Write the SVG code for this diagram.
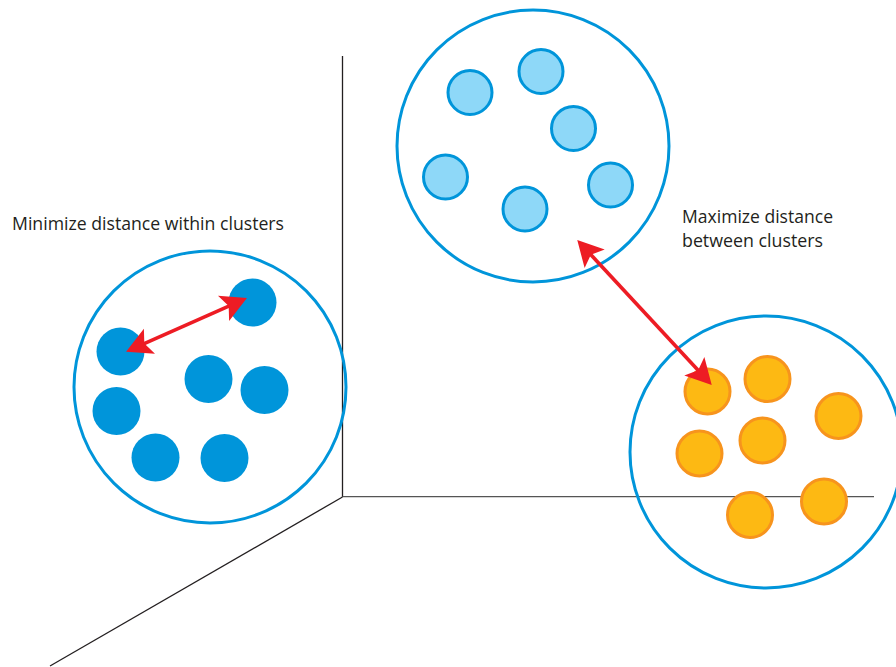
<svg xmlns="http://www.w3.org/2000/svg" width="896" height="667" viewBox="0 0 896 667">
<style>
.axis{stroke:#231F20;stroke-width:1.3;fill:none}
.axis-h{stroke:#555;stroke-width:1.3;fill:none}
.cluster{fill:none;stroke:#0095DA;stroke-width:3}
.dark{fill:#0095DA}
.light{fill:#8ED8F8;stroke:#0095DA;stroke-width:3}
.orange{fill:#FDB913;stroke:#F7941D;stroke-width:3}
.arrow{stroke:#ED1C24;stroke-width:3.6;fill:none;marker-start:url(#head);marker-end:url(#head)}
.label{font-family:"Open Sans","Liberation Sans",sans-serif;font-size:18.5px;fill:#231F20}
</style>
<defs>
<marker id="head" viewBox="-10 -15 30 30" markerWidth="30" markerHeight="30" refX="0" refY="0" markerUnits="userSpaceOnUse" orient="auto-start-reverse">
<path d="M18,0 L-7.6,-13.7 L-2,0 L-7.6,13.7 Z" fill="#ED1C24"/>
</marker>
</defs>
<rect width="896" height="667" fill="#fff"/>
<g id="axes">
<line class="axis" x1="342.5" y1="56" x2="342.5" y2="497"/>
<line class="axis-h" x1="342.5" y1="496.7" x2="874" y2="496.7"/>
<line class="axis" x1="342.5" y1="497" x2="50" y2="666"/>
</g>
<g id="cluster-left">
<circle class="cluster" cx="210" cy="387" r="136"/>
<circle class="dark" cx="252.5" cy="302.5" r="24"/>
<circle class="dark" cx="120.5" cy="351.5" r="24"/>
<circle class="dark" cx="208.5" cy="379" r="24"/>
<circle class="dark" cx="264.5" cy="390" r="24"/>
<circle class="dark" cx="116.5" cy="411" r="24"/>
<circle class="dark" cx="155.5" cy="457.5" r="24"/>
<circle class="dark" cx="224.5" cy="458" r="24"/>
</g>
<g id="cluster-top">
<circle class="cluster" cx="533" cy="146" r="136"/>
<circle class="light" cx="470" cy="92.5" r="22"/>
<circle class="light" cx="541" cy="71.5" r="22"/>
<circle class="light" cx="573.5" cy="128.5" r="22"/>
<circle class="light" cx="445.5" cy="177" r="22"/>
<circle class="light" cx="525" cy="209" r="22"/>
<circle class="light" cx="610.5" cy="185" r="22"/>
</g>
<g id="cluster-right">
<circle class="cluster" cx="766" cy="452" r="136"/>
<circle class="orange" cx="707.5" cy="391.5" r="22.5"/>
<circle class="orange" cx="767.5" cy="379" r="22.5"/>
<circle class="orange" cx="838.5" cy="416" r="22.5"/>
<circle class="orange" cx="699.5" cy="453.5" r="22.5"/>
<circle class="orange" cx="762.5" cy="440.5" r="22.5"/>
<circle class="orange" cx="750" cy="515" r="22.5"/>
<circle class="orange" cx="824" cy="501.5" r="22.5"/>
</g>
<g id="connectors">
<line class="arrow" x1="142.5" y1="344.4" x2="230.5" y2="305.3"/>
<line class="arrow" x1="589.5" y1="253.2" x2="699.5" y2="371.8"/>
</g>
<g id="label-within">
<text class="label" x="12" y="229.5" textLength="272" lengthAdjust="spacingAndGlyphs">Minimize distance within clusters</text>
</g>
<g id="label-between">
<text class="label" x="682" y="222.5" textLength="151" lengthAdjust="spacingAndGlyphs">Maximize distance</text>
<text class="label" x="682" y="247" textLength="141" lengthAdjust="spacingAndGlyphs">between clusters</text>
</g>
</svg>
